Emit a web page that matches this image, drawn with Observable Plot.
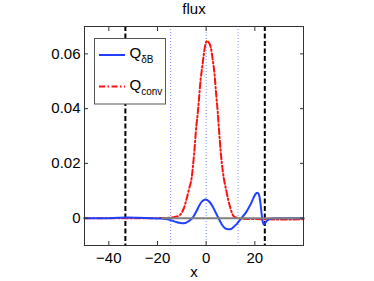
<!DOCTYPE html>
<html>
<head>
<meta charset="utf-8">
<script src="https://cdn.jsdelivr.net/npm/d3@7"></script>
<script src="https://cdn.jsdelivr.net/npm/@observablehq/plot@0.6"></script>
<style>
body { margin: 0; background: #fff; }
#wrap { position: relative; width: 374px; height: 281px; font-family: "Liberation Sans", Helvetica, Arial, sans-serif; }
#legend { position: absolute; left: 0; top: 0; }
</style>
</head>
<body>
<div id="wrap"></div>
<script>
// Q_deltaB (blue solid)
const blueX = [-50, -40, -32, -28, -20, -16, -14, -12, -10, -8.5, -7, -5.5, -4, -3, -2, -1, -0.3, 0.5, 1.5, 2.5, 3.5, 4.5, 5.5, 6.5, 7.5, 8.5, 9.6, 10.5, 11.5, 12.5, 13.5, 14.5, 15.5, 16.5, 17.5, 18.5, 19.5, 20.5, 21.1, 21.7, 22.3, 22.8, 23.3, 23.7, 24.3, 25.2, 26.5, 28, 40];
const blueY = [0, 0, 0.0002, 0.0001, -0.0001, -0.0004, -0.0009, -0.0015, -0.0019, -0.0018, -0.0010, 0.0002, 0.0025, 0.0043, 0.0058, 0.0066, 0.0068, 0.0066, 0.0058, 0.0045, 0.0028, 0.0010, -0.0008, -0.0024, -0.0035, -0.0040, -0.0041, -0.0038, -0.0031, -0.0022, -0.0011, 0.0000, 0.0011, 0.0023, 0.0038, 0.0055, 0.0075, 0.0090, 0.0093, 0.0086, 0.0055, 0.0015, -0.0015, -0.0023, -0.0017, -0.0008, -0.0002, 0, 0];
// Q_conv (red dash-dot)
const redX = [-50, -20, -16, -14, -12.5, -11.2, -10, -9, -8, -7, -6, -5, -4, -3.5, -3, -2.3, -1.6, -1, -0.3, 0.4, 1.0, 1.8, 2.7, 3.4, 4.2, 4.7, 5.2, 6.0, 6.9, 8.3, 9.9, 11.3, 12.9, 14, 18, 24, 30, 40];
const redY = [0, 0, 0.0001, 0.0002, 0.0005, 0.0009, 0.0020, 0.0040, 0.0072, 0.0108, 0.0145, 0.0230, 0.0340, 0.0380, 0.0430, 0.0504, 0.0553, 0.0596, 0.0635, 0.0648, 0.0642, 0.0627, 0.0578, 0.0529, 0.0443, 0.0394, 0.0332, 0.0240, 0.0167, 0.0099, 0.0038, 0.0007, 0.0000, -0.0002, -0.0003, -0.0004, -0.0005, -0.0004];
// vertical markers
const blackLines = [-33.2, 24.1];
const blueDotted = [-14.6, 0, 13.1];
const zeroLineX = [-18, 40];
const xTicks = [-40, -20, 0, 20];
const yTicks = [0, 0.02, 0.04, 0.06];
const seriesNames = ["Q", "Q"];
const seriesSubs = ["δB", "conv"];

const blue = blueX.map((x, i) => ({x, y: blueY[i]}));
const red = redX.map((x, i) => ({x, y: redY[i]}));
const zero = zeroLineX.map(x => ({x, y: 0}));

const font = "Liberation Sans, Helvetica, Arial, sans-serif";

const chart = Plot.plot({
  width: 374,
  height: 281,
  marginLeft: 84,
  marginRight: 71,
  marginTop: 26,
  marginBottom: 36,
  style: {fontFamily: font, fontSize: "15px", color: "#000", background: "#fff"},
  x: {domain: [-50, 40]},
  y: {domain: [-0.01, 0.07]},
  marks: [
    Plot.ruleX(blueDotted, {stroke: "#7f8fff", strokeWidth: 1, strokeDasharray: "1,2"}),
    Plot.ruleX(blackLines, {stroke: "#000", strokeWidth: 2, strokeDasharray: "5,2.5"}),
    Plot.line(red, {x: "x", y: "y", stroke: "#ff1010", strokeWidth: 2, strokeDasharray: "6,2.5,1.5,2.5", curve: "monotone-x"}),
    Plot.line(blue, {x: "x", y: "y", stroke: "#2040ff", strokeWidth: 2, curve: "monotone-x"}),
    Plot.line(zero, {x: "x", y: "y", stroke: "#808080", strokeWidth: 2}),
    Plot.frame({stroke: "#333", strokeWidth: 1}),
    Plot.axisX(xTicks, {anchor: "bottom", tickSize: -4, tickPadding: 11, label: null, stroke: "#333"}),
    Plot.axisX(xTicks, {anchor: "top", tickSize: -4, tickFormat: () => "", label: null, stroke: "#333"}),
    Plot.axisY(yTicks, {anchor: "left", tickSize: -4, tickPadding: 8, label: null, stroke: "#333", tickFormat: d => d === 0 ? "0" : d.toFixed(2)}),
    Plot.axisY(yTicks, {anchor: "right", tickSize: -4, tickFormat: () => "", label: null, stroke: "#333"}),
    Plot.text(["flux"], {frameAnchor: "top", dy: -12.5, lineAnchor: "bottom", fontSize: 15}),
    Plot.text(["x"], {frameAnchor: "bottom", dy: 31, lineAnchor: "bottom", fontSize: 15})
  ]
});

const wrap = document.getElementById("wrap");
wrap.appendChild(chart);

// legend overlay
const svg = d3.select(wrap).append("svg").attr("id", "legend")
  .attr("width", 374).attr("height", 281)
  .style("font-family", font);
svg.append("rect").attr("x", 94.5).attr("y", 38.5).attr("width", 71).attr("height", 65.5)
  .attr("fill", "#fff").attr("stroke", "#555").attr("stroke-width", 1);
const rows = [
  {y: 55, stroke: "#2040ff", dash: null},
  {y: 86.5, stroke: "#ff1010", dash: "6,2.5,1.5,2.5"}
];
rows.forEach((r, i) => {
  svg.append("line").attr("x1", 99).attr("x2", 125).attr("y1", r.y).attr("y2", r.y)
    .attr("stroke", r.stroke).attr("stroke-width", 2).attr("stroke-dasharray", r.dash);
  const t = svg.append("text").attr("x", 129.5).attr("y", r.y + 3).attr("font-size", 15);
  t.append("tspan").text(seriesNames[i]);
  t.append("tspan").attr("font-size", 10).attr("dy", 5).text(seriesSubs[i]);
});
</script>
</body>
</html>
